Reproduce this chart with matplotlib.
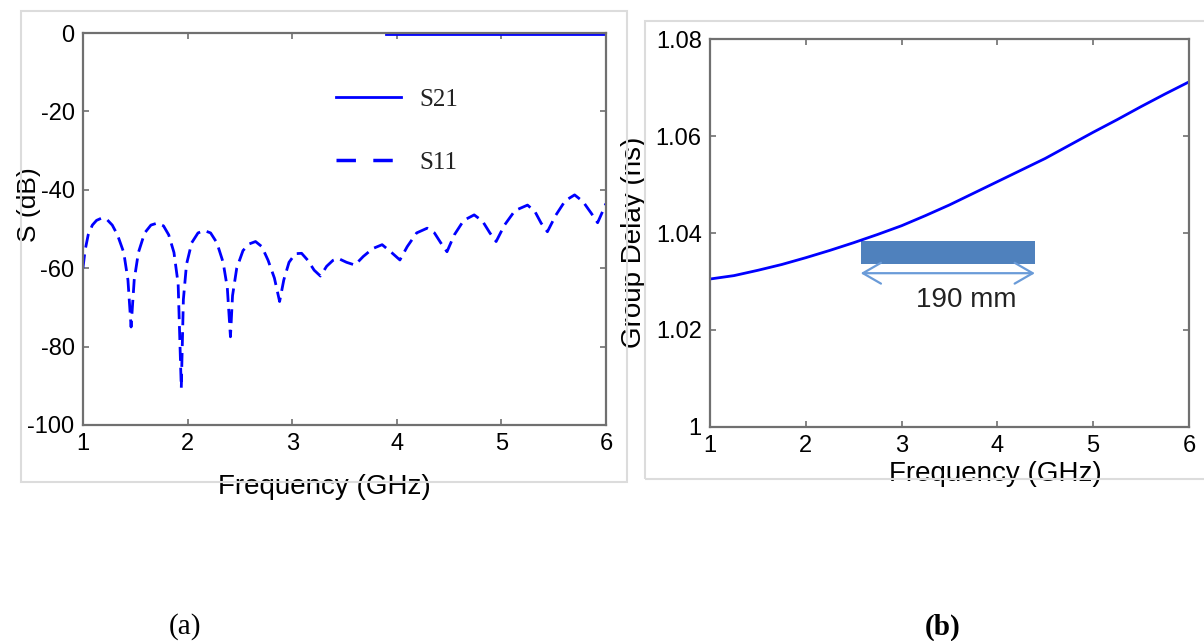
"""S-parameters and group delay of the 190 mm line, two panels side by side."""
import matplotlib

matplotlib.use("Agg")
import matplotlib.pyplot as plt
from matplotlib.lines import Line2D
from matplotlib.patches import Rectangle

plt.rcParams["axes.unicode_minus"] = False

# (a) S11
s11_freq = [1.00, 1.02, 1.05, 1.09, 1.13, 1.18, 1.23, 1.28, 1.33, 1.39, 1.43, 1.46,
            1.49, 1.53, 1.59, 1.65, 1.71, 1.77, 1.82, 1.87, 1.91, 1.94,
            1.96, 1.99, 2.04, 2.10, 2.16, 2.22, 2.28, 2.34, 2.38, 2.41,
            2.43, 2.47, 2.53, 2.59, 2.65, 2.71, 2.77, 2.83, 2.88,
            2.92, 2.97, 3.03, 3.09, 3.15, 3.21, 3.27, 3.33, 3.39, 3.44,
            3.52, 3.60, 3.68, 3.77, 3.86, 3.95, 4.03, 4.10, 4.19, 4.29,
            4.36, 4.42, 4.48, 4.55, 4.64, 4.74, 4.82, 4.89, 4.95,
            5.03, 5.13, 5.25, 5.32, 5.38, 5.44, 5.52, 5.61, 5.70,
            5.78, 5.86, 5.92, 5.96, 6.00]
s11_db = [-60, -55.5, -51.5, -49, -47.8, -47.2, -47.6, -49, -51.5, -56, -63, -75,
          -63, -56, -51, -49, -48.5, -49.2, -51.5, -56, -64, -90.6,
          -68, -59, -53.5, -51, -50.4, -51, -53.5, -58.5, -65, -77.5,
          -67, -60, -55.5, -53.8, -53.2, -54.5, -58, -62.5, -68.5,
          -63, -58.5, -56.3, -56.2, -58, -60.5, -62, -59.5, -58, -57.5,
          -58.5, -59.2, -57, -55, -54, -56, -57.9, -54.5, -51, -49.8,
          -51, -53.5, -55.8, -51.5, -47.8, -46.4, -48, -51, -53.2,
          -49, -45.3, -43.9, -45.5, -48.5, -50.7, -46.5, -42.8, -41.3,
          -43, -46, -48.4, -46, -43.5]
# S21 sits on 0 dB; it only shows below the frame above ~3.9 GHz
s21_freq = [3.9, 4.5, 5.0, 5.5, 6.0]
s21_db = [-0.3, -0.3, -0.3, -0.3, -0.3]
legend_labels = ["S21", "S11"]

# (b) group delay
gd_freq = [1.0, 1.25, 1.5, 1.75, 2.0, 2.25, 2.5, 2.75, 3.0, 3.25, 3.5,
           3.75, 4.0, 4.25, 4.5, 4.75, 5.0, 5.25, 5.5, 5.75, 6.0]
gd_ns = [1.0305, 1.0312, 1.0323, 1.0335, 1.0349, 1.0364, 1.0380, 1.0397,
         1.0415, 1.0436, 1.0458, 1.0482, 1.0506, 1.0530, 1.0554, 1.0581,
         1.0608, 1.0634, 1.0661, 1.0687, 1.0712]
gd_yticks = [1.00, 1.02, 1.04, 1.06, 1.08]
gd_yticklabels = ["1", "1.02", "1.04", "1.06", "1.08"]

# line sketch inset: 190 mm bar with its dimension arrow
bar_span = [2.573, 4.392]
bar_low, bar_high = 1.0337, 1.0384
arrow_y = 1.0317
bar_label = "190 mm"
bar_label_xy = (3.67, 1.0262)

SANS = "Liberation Sans"
BLUE = "#0000ff"
AXC = "#707070"

fig = plt.figure(figsize=(12.04, 6.41), dpi=100)

# light grey frames around each panel (pasted-figure look)
for (x0, y0, x1, y1) in [(21, 11, 627, 482), (645, 21, 1215, 479)]:
    fig.add_artist(Rectangle((x0 / 1204, 1 - y1 / 641), (x1 - x0) / 1204,
                             (y1 - y0) / 641, transform=fig.transFigure,
                             fill=False, ec="#dcdcdc", lw=1.5))


def style(ax):
    for s in ax.spines.values():
        s.set_color(AXC)
        s.set_linewidth(1.6)
    ax.tick_params(direction="in", length=4, width=1.2, color=AXC,
                   top=True, right=True, labelsize=17, pad=6)
    for lab in ax.get_xticklabels() + ax.get_yticklabels():
        lab.set_family(SANS)


# ---- (a)
ax1 = fig.add_axes([0.0689, 0.3370, 0.4344, 0.6115])
ax1.plot(s21_freq, s21_db, color=BLUE, lw=2)
ax1.plot(s11_freq, s11_db, color=BLUE, lw=2, ls=(0, (5, 2.5)))
ax1.set_xlim(1, 6)
ax1.set_ylim(-100, 0)
ax1.set_xticks([1, 2, 3, 4, 5, 6])
ax1.set_yticks([-100, -80, -60, -40, -20, 0])
style(ax1)
ax1.set_xlabel("Frequency (GHz)", family=SANS, fontsize=20, va="center")
ax1.xaxis.set_label_coords(0.461, -0.158)
ax1.set_ylabel("S (dB)", family=SANS, fontsize=19, va="center")
ax1.yaxis.set_label_coords(-0.104, 0.561)

handles = [Line2D([], [], color=BLUE, lw=2),
           Line2D([], [], color=BLUE, lw=2.5, ls=(0, (5.6, 5)))]
leg = ax1.legend(handles, legend_labels, loc="center left",
                 bbox_to_anchor=(0.484, 0.75), frameon=False,
                 prop={"family": "Liberation Serif", "size": 18},
                 handlelength=2.6, handletextpad=0.75, labelspacing=1.6,
                 borderpad=0, borderaxespad=0)
for t in leg.get_texts():
    t.set_color("#222222")

# ---- (b)
ax2 = fig.add_axes([0.5897, 0.3343, 0.3978, 0.6044])
ax2.plot(gd_freq, gd_ns, color=BLUE, lw=2)
ax2.fill_between(bar_span, bar_low, bar_high, color="#4f81bd", lw=0)
ax2.annotate("", xy=(bar_span[0], arrow_y), xytext=(bar_span[1], arrow_y),
             arrowprops=dict(arrowstyle="<->,head_length=1.3,head_width=0.75",
                             color="#6a9bd8", lw=1.6,
                             shrinkA=0, shrinkB=0))
ax2.text(*bar_label_xy, bar_label, family=SANS, fontsize=20,
         color="#222222", ha="center", va="center")
ax2.set_xlim(1, 6)
ax2.set_ylim(1.0, 1.08)
ax2.set_xticks([1, 2, 3, 4, 5, 6])
ax2.set_yticks(gd_yticks, gd_yticklabels)
style(ax2)
ax2.set_xlabel("Frequency (GHz)", family=SANS, fontsize=20, va="center")
ax2.xaxis.set_label_coords(0.595, -0.121)
ax2.set_ylabel("Group Delay (ns)", family=SANS, fontsize=20, va="center")
ax2.yaxis.set_label_coords(-0.159, 0.477)

# captions
fig.text(185 / 1204, 1 - 627 / 641, "(a)", family="Liberation Serif",
         fontsize=21, ha="center", va="center")
fig.text(943 / 1204, 1 - 627 / 641, "(b)", family="Liberation Serif",
         fontsize=21, weight="bold", ha="center", va="center")

fig.savefig("out.png", dpi=100)
